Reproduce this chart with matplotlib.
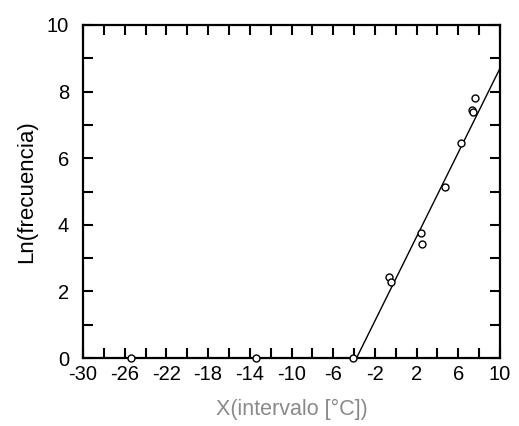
import matplotlib
matplotlib.use("Agg")
import matplotlib.pyplot as plt

# Data
x_pts = [-25.4, -13.4, -4.1, -0.6, -0.5, 2.4, 2.5, 4.7, 6.3, 7.3, 7.4, 7.6]
y_pts = [0.0, 0.0, 0.0, 2.42, 2.29, 3.74, 3.42, 5.14, 6.47, 7.45, 7.40, 7.80]
fit_x = [-3.76, 10.0]
fit_y = [0.0, 8.7]
xticks = list(range(-30, 11, 4))
yticks = list(range(0, 11, 2))

plt.rcParams['font.family'] = ['Liberation Sans', 'DejaVu Sans']
plt.rcParams['axes.unicode_minus'] = False

fig = plt.figure(figsize=(5.19, 4.26), dpi=100)
ax = fig.add_axes([83/519, 1-358/426, (500-83)/519, (358-25)/426])

ax.plot(fit_x, fit_y, color='black', lw=1.0, zorder=2)
ax.plot(x_pts, y_pts, linestyle='none', marker='o', markersize=5,
        markerfacecolor='white', markeredgecolor='black', markeredgewidth=1.0,
        zorder=3, clip_on=False)

ax.set_xlim(-30, 10)
ax.set_ylim(0, 10)
ax.set_xticks(xticks)
ax.set_yticks(yticks)
ax.set_xticks(list(range(-30, 11, 2)), minor=True)
ax.set_yticks(list(range(0, 11, 1)), minor=True)

ax.tick_params(which='both', direction='in', top=True, right=True,
               length=7.5, width=1.5, color='black')
ax.tick_params(axis='x', which='major', labelsize=14.5, pad=5)
ax.tick_params(axis='y', which='major', labelsize=14.5, pad=10)
for s in ax.spines.values():
    s.set_linewidth(1.6)
    s.set_color('black')

ax.set_xlabel('X(intervalo [°C])', fontsize=15.5, color='#8a8a8a', labelpad=11)
ax.set_ylabel('Ln(frecuencia)', fontsize=16, color='black', labelpad=7)

fig.savefig('out.png', dpi=100)
